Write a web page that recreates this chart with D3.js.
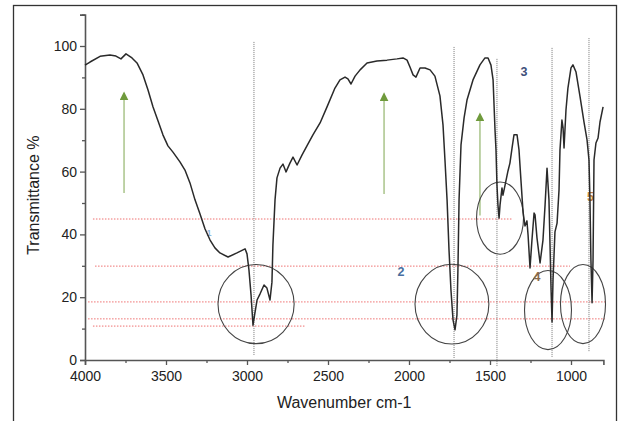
<!DOCTYPE html>
<html>
<head>
<meta charset="utf-8">
<script src="https://cdn.jsdelivr.net/npm/d3@7"></script>
<style>
  body { margin: 0; background: #fff; }
  text { font-family: "Liberation Sans", Arial, sans-serif; }
</style>
</head>
<body>
<div id="chart"></div>
<script>
const width = 621
const height = 421

// spectrum: wavenumber (cm-1) and transmittance (%)
const wavenumbers = [4000, 3969, 3907, 3846, 3809, 3778, 3747, 3710, 3679, 3642, 3611, 3580, 3549, 3519, 3488, 3457, 3414, 3383, 3352, 3321, 3290, 3259, 3228, 3198, 3167, 3117, 3062, 3012, 3000, 2988, 2975, 2963, 2951, 2938, 2920, 2895, 2877, 2858, 2846, 2840, 2827, 2815, 2796, 2778, 2759, 2735, 2716, 2691, 2660, 2630, 2593, 2549, 2506, 2457, 2426, 2395, 2377, 2358, 2333, 2302, 2259, 2198, 2136, 2074, 2037, 2012, 1994, 1975, 1957, 1932, 1901, 1870, 1840, 1809, 1790, 1778, 1765, 1753, 1741, 1728, 1716, 1704, 1698, 1691, 1679, 1660, 1642, 1605, 1562, 1531, 1512, 1494, 1481, 1469, 1463, 1457, 1451, 1444, 1438, 1426, 1420, 1407, 1389, 1377, 1364, 1352, 1333, 1321, 1309, 1296, 1284, 1272, 1265, 1253, 1241, 1228, 1222, 1210, 1191, 1173, 1160, 1148, 1136, 1123, 1117, 1111, 1099, 1086, 1074, 1068, 1056, 1049, 1043, 1031, 1019, 1000, 988, 969, 944, 920, 901, 889, 883, 877, 870, 864, 858, 846, 833, 821, 802]
const transmittance = [93.9, 94.9, 96.7, 97.1, 96.8, 95.9, 97.5, 96.2, 94.6, 90.8, 86.0, 80.6, 76.1, 71.7, 68.2, 66.2, 63.1, 60.5, 56.4, 51.0, 46.5, 41.7, 38.2, 35.7, 34.1, 32.8, 34.1, 35.4, 33.8, 28.7, 20.7, 11.1, 15.0, 19.1, 21.0, 23.9, 22.9, 19.1, 24.8, 36.6, 51.0, 58.0, 61.1, 62.4, 59.9, 62.7, 64.6, 62.1, 65.3, 68.2, 71.7, 75.5, 80.6, 86.6, 89.2, 90.1, 89.5, 87.9, 90.4, 92.4, 94.6, 95.2, 95.5, 95.9, 96.2, 95.5, 93.3, 90.8, 90.1, 93.0, 93.0, 92.4, 90.4, 84.1, 74.8, 63.7, 51.0, 35.0, 22.3, 12.7, 9.6, 14.3, 28.7, 51.0, 68.5, 77.1, 82.8, 89.2, 94.0, 96.2, 96.2, 93.9, 89.2, 73.2, 66.9, 55.7, 49.4, 45.2, 49.4, 54.8, 52.5, 55.7, 60.2, 62.7, 67.5, 71.7, 71.7, 66.9, 57.3, 47.1, 42.7, 44.3, 39.8, 29.3, 38.2, 46.8, 46.2, 38.9, 30.9, 38.2, 49.4, 61.1, 51.0, 22.3, 12.1, 25.5, 40.8, 43.6, 54.1, 66.9, 76.4, 73.9, 67.5, 79.6, 86.6, 93.0, 94.0, 91.7, 83.8, 75.8, 70.1, 63.7, 51.0, 31.8, 18.2, 31.8, 63.7, 69.1, 70.7, 75.8, 80.6]

const xTicks = [4000, 3500, 3000, 2500, 2000, 1500, 1000]
const xMinorTicks = [3750, 3250, 2750, 2250, 1750, 1250]
const yTicks = [0, 20, 40, 60, 80, 100]
const yMinorTicks = [10, 30, 50, 70, 90, 110]

// marked bands: wavenumber, top and bottom of the dotted line (%)
const bandPos = [2957, 1722, 1457, 1117, 889]
const bandTop = [101.3, 99.7, 95.9, 99.4, 102.5]
const bandBottom = [1.6, 0.6, -2.2, 1.0, 2.5]

// red reference levels: transmittance, from, to (cm-1)
const levelT = [44.9, 29.9, 18.5, 13.1, 10.8]
const levelFrom = [3951, 3938, 3981, 3981, 3951]
const levelTo = [1364, 1006, 784, 790, 2645]

// circled regions: centre (cm-1, %), half width (cm-1), half height (%)
const ringX = [2944, 1735, 1438, 1142, 926]
const ringT = [17.8, 17.8, 45.2, 15.9, 17.8]
const ringW = [235, 228, 145, 145, 139]
const ringH = [12.6, 12.7, 11.5, 12.6, 12.6]

// green arrows: position (cm-1), from and to (%)
const arrowX = [3759, 2154, 1562]
const arrowFrom = [53.2, 52.9, 46]
const arrowTo = [84.1, 83.8, 77.4]

// numbered labels
const labelText = ["1", "2", "3", "4", "5"]
const labelX = [3235, 2049, 1290, 1210, 880]
const labelT = [39.5, 26.8, 90.4, 25.2, 50.5]
const labelColor = ["#8fb8e0", "#4a6fa0", "#3d4f7a", "#8a6a4a", "#c08040"]

const spectrum = wavenumbers.map((w, i) => ({ w: w, t: transmittance[i] }))

const svg = d3.select("#chart")
  .append("svg")
  .attr("width", width)
  .attr("height", height)

// outer frame
svg.append("rect")
  .attr("x", 13.5).attr("y", 5.5)
  .attr("width", 603).attr("height", 430)
  .attr("fill", "none")
  .attr("stroke", "#333")
  .attr("stroke-width", 1.3)

const xScale = d3.scaleLinear()
  .domain([4000, 800])
  .range([85, 603.4])

const yScale = d3.scaleLinear()
  .domain([0, 110])
  .range([360, 14.6])

const defs = svg.append("defs")
defs.append("marker")
  .attr("id", "head")
  .attr("viewBox", "0 0 10 10")
  .attr("refX", 5).attr("refY", 5)
  .attr("markerWidth", 6).attr("markerHeight", 6)
  .attr("orient", "auto")
  .append("path")
  .attr("d", "M0,0L10,5L0,10Z")
  .attr("fill", "#6f9a3c")

// red dotted levels
svg.selectAll("line.level")
  .data(levelT)
  .join("line")
  .attr("class", "level")
  .attr("x1", (d, i) => xScale(levelFrom[i]))
  .attr("x2", (d, i) => xScale(levelTo[i]))
  .attr("y1", d => yScale(d))
  .attr("y2", d => yScale(d))
  .attr("stroke", "#ee7070")
  .attr("stroke-width", 1)
  .attr("stroke-dasharray", "1.5,1.5")

// dotted band markers
svg.selectAll("line.band")
  .data(bandPos)
  .join("line")
  .attr("class", "band")
  .attr("x1", d => xScale(d))
  .attr("x2", d => xScale(d))
  .attr("y1", (d, i) => yScale(bandTop[i]))
  .attr("y2", (d, i) => yScale(bandBottom[i]))
  .attr("stroke", "#777")
  .attr("stroke-width", 1)
  .attr("stroke-dasharray", "1,1")

// green arrows
svg.selectAll("line.arrow")
  .data(arrowX)
  .join("line")
  .attr("class", "arrow")
  .attr("x1", d => xScale(d))
  .attr("x2", d => xScale(d))
  .attr("y1", (d, i) => yScale(arrowFrom[i]))
  .attr("y2", (d, i) => yScale(arrowTo[i]))
  .attr("stroke", "#a9c48a")
  .attr("stroke-width", 1.5)
  .attr("marker-end", "url(#head)")

// axes
const xAxis = svg.append("g")
  .attr("transform", `translate(0,${yScale(0)})`)
  .call(d3.axisBottom(xScale).tickValues(xTicks).tickFormat(d3.format("d")).tickSize(5).tickPadding(6))
xAxis.append("g")
  .call(d3.axisBottom(xScale).tickValues(xMinorTicks).tickFormat("").tickSize(3))
  .select(".domain").remove()

const yAxis = svg.append("g")
  .attr("transform", `translate(${xScale(4000)},0)`)
  .call(d3.axisLeft(yScale).tickValues(yTicks).tickSize(5).tickPadding(3))
yAxis.append("g")
  .call(d3.axisLeft(yScale).tickValues(yMinorTicks).tickFormat("").tickSize(3))
  .select(".domain").remove()

svg.selectAll(".domain").attr("stroke", "#555").attr("stroke-width", 1.6)
svg.selectAll(".tick line").attr("stroke", "#555").attr("stroke-width", 1.3)
svg.selectAll(".tick text")
  .attr("font-family", "Liberation Sans, Arial, sans-serif")
  .attr("font-size", 14)
  .attr("fill", "#222")

// axis titles
svg.append("text")
  .attr("x", xScale(2400))
  .attr("y", 408)
  .attr("text-anchor", "middle")
  .attr("font-size", 16)
  .attr("fill", "#222")
  .text("Wavenumber cm-1")

svg.append("text")
  .attr("transform", `translate(39,${yScale(52.5)}) rotate(-90)`)
  .attr("text-anchor", "middle")
  .attr("font-size", 16)
  .attr("fill", "#222")
  .text("Transmittance %")

// circled regions
svg.selectAll("ellipse.ring")
  .data(ringX)
  .join("ellipse")
  .attr("class", "ring")
  .attr("cx", d => xScale(d))
  .attr("cy", (d, i) => yScale(ringT[i]))
  .attr("rx", (d, i) => Math.abs(xScale(d + ringW[i]) - xScale(d)))
  .attr("ry", (d, i) => Math.abs(yScale(ringH[i]) - yScale(0)))
  .attr("fill", "none")
  .attr("stroke", "#444")
  .attr("stroke-width", 1.1)

// numbers (drawn under the trace, "1" is mostly hidden in the original)
svg.selectAll("text.num")
  .data(labelText)
  .join("text")
  .attr("class", "num")
  .attr("x", (d, i) => xScale(labelX[i]))
  .attr("y", (d, i) => yScale(labelT[i]))
  .attr("text-anchor", "middle")
  .attr("font-family", "Liberation Serif, Times New Roman, serif")
  .attr("font-size", (d, i) => i === 0 ? 9 : 12.5)
  .attr("font-weight", "bold")
  .attr("fill", (d, i) => labelColor[i])
  .text(d => d)

// spectrum
const lineFunc = d3.line()
  .x(d => xScale(d.w))
  .y(d => yScale(d.t))

svg.selectAll("path.trend")
  .data([spectrum])
  .join("path")
  .attr("class", "trend")
  .attr("d", d => lineFunc(d))
  .attr("fill", "none")
  .attr("stroke", "#2a2a2a")
  .attr("stroke-width", 1.5)
  .attr("stroke-linejoin", "round")
</script>
</body>
</html>
